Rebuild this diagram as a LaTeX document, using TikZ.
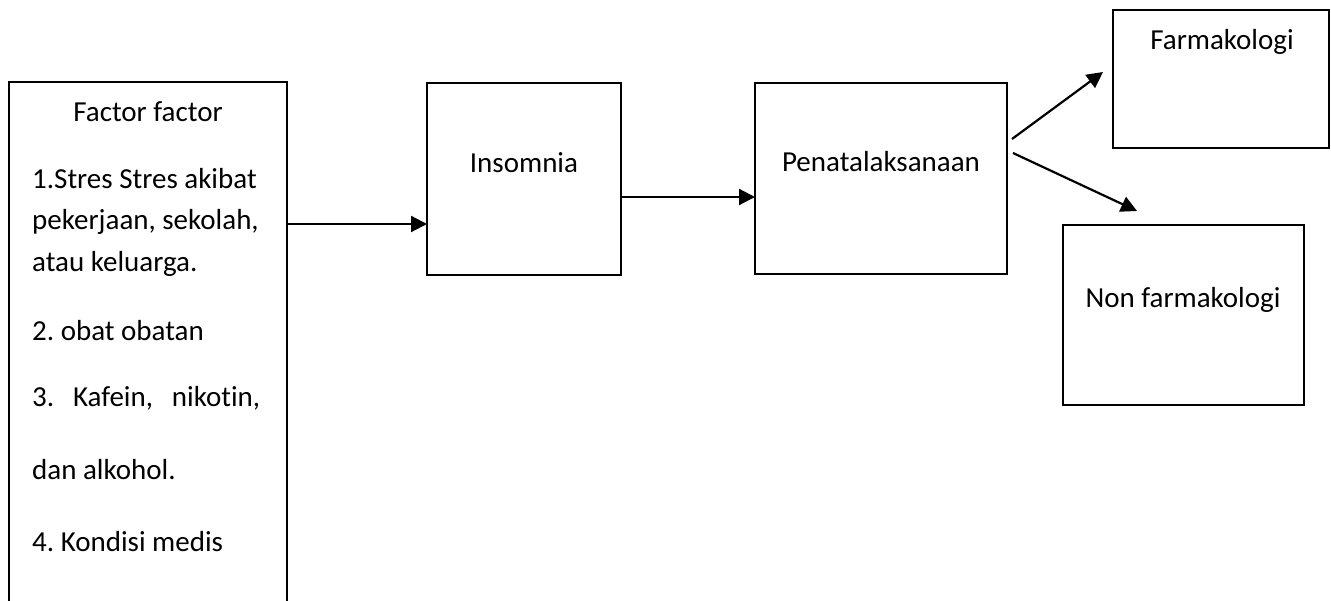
\documentclass[tikz,border=0pt]{standalone}
\usepackage{fontspec}
\setmainfont{Carlito}[Ligatures=NoCommon]
\usetikzlibrary{arrows.meta}
\frenchspacing
\begin{document}
\begin{tikzpicture}[x=1pt,y=-1pt,
  box/.style={draw, line width=2pt, inner sep=0pt, outer sep=0pt, anchor=north west},
  txt/.style={font=\fontsize{29}{35}\selectfont, inner sep=0pt, anchor=base},
  ltxt/.style={txt, anchor=base west},
  arr/.style={line width=2.2pt, -{Triangle[length=16pt,width=16pt]}}]
\useasboundingbox (0,0) rectangle (1331,601);
\clip (0,0) rectangle (1331,601);

% boxes
\node[box, minimum width=278pt, minimum height=620pt] (factors) at (9,82) {};
\node[box, minimum width=194pt, minimum height=192pt] (insomnia) at (427,83) {};
\node[box, minimum width=252pt, minimum height=191pt] (pen) at (755,83) {};
\node[box, minimum width=216pt, minimum height=138pt] (farm) at (1113,10) {};
\node[box, minimum width=241pt, minimum height=180pt] (nonfarm) at (1063,225) {};

% texts of the factor list
\node[txt]  (f0) at (148,122) {Factor factor};
\node[ltxt] (f1) at (32,189) {1.Stres Stres akibat};
\node[ltxt] (f2) at (32,230) {pekerjaan, sekolah,};
\node[ltxt] (f3) at (32,272) {atau keluarga.};
\node[ltxt] (f4) at (32,341) {2. obat obatan};
\node[ltxt] (f5) at (32,407) {\makebox[228pt][s]{3. Kafein, nikotin,}};
\node[ltxt] (f6) at (32,479) {dan alkohol.};
\node[ltxt] (f7) at (32,551) {4. Kondisi medis};

% box titles
\node[txt] (tins)  at (524,173)  {Insomnia};
\node[txt] (tpen)  at (881,172)  {Penatalaksanaan};
\node[txt] (tfarm) at (1222,50)  {Farmakologi};
\node[txt] (tnon)  at (1183,308) {Non farmakologi};

% connectors
\coordinate (lvlA) at (0,224);
\coordinate (lvlB) at (0,197);
\coordinate (upS) at (1012,139);
\coordinate (upE) at (1103,72);
\coordinate (dnS) at (1013,153);
\coordinate (dnE) at (1137,211);
\draw[arr] (factors.east |- lvlA) -- (insomnia.west |- lvlA);
\draw[arr] (insomnia.east |- lvlB) -- (pen.west |- lvlB);
\draw[arr] (upS) -- (upE);
\draw[arr] (dnS) -- (dnE);
\end{tikzpicture}
\end{document}
